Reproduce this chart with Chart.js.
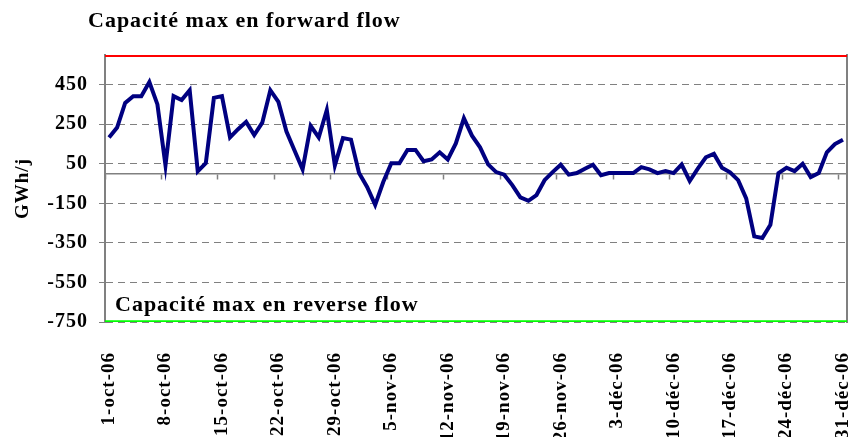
<!DOCTYPE html>
<html>
<head>
<meta charset="utf-8">
<style>
  html, body { margin: 0; padding: 0; background: #fff; }
  #wrap { width: 851px; height: 437px; }
</style>
</head>
<body>
<div id="wrap"><canvas id="flux"></canvas></div>
<script src="https://cdn.jsdelivr.net/npm/chart.js@4"></script>
<script>
// jours du 1-oct-06 au 31-déc-06
const months = [['oct', 31], ['nov', 30], ['déc', 31]];
const categories = [];
months.forEach(([m, n]) => {
  for (let d = 1; d <= n; d++) categories.push(d + '-' + m + '-06');
});

const tickLabels = ['1-oct-06', '8-oct-06', '15-oct-06', '22-oct-06', '29-oct-06', '5-nov-06', '12-nov-06',
  '19-nov-06', '26-nov-06', '3-déc-06', '10-déc-06', '17-déc-06', '24-déc-06', '31-déc-06'];

// flux journalier (GWh/j)
const flux = [183, 233, 358, 392, 392, 463, 350, 42, 392, 372, 422, 12, 53, 383, 392, 183, 225, 262,
  195, 258, 422, 363, 213, 117, 22, 242, 183, 322, 42, 180, 172, 3, -67, -158, -42, 53,
  53, 120, 120, 63, 72, 108, 72, 153, 280, 192, 133, 47, 8, -5, -58, -120, -137, -108,
  -33, 8, 45, -5, 3, 25, 45, -8, 3, 3, 3, 3, 33, 22, 3, 13, 3, 46,
  -37, 25, 83, 100, 30, 7, -33, -125, -317, -325, -258, 3, 30, 13, 50, -17, 3, 108, 150, 172];

const yTicks = [-750, -550, -350, -150, 50, 250, 450];
const forwardCap = 600;
const reverseCap = -750;

const gris = '#808080';
const serif = '"Liberation Serif", "Times New Roman", serif';

const textes = {
  id: 'textes',
  beforeDraw(chart) {
    chart.ctx.letterSpacing = '1px';
  },
  afterDraw(chart) {
    const { ctx, chartArea } = chart;
    ctx.save();
    ctx.font = 'bold 22px ' + serif;
    ctx.fillStyle = '#000';
    ctx.textAlign = 'left';
    ctx.textBaseline = 'alphabetic';
    ctx.fillText('Capacité max en forward flow', chartArea.left - 17, chartArea.top - 28);
    ctx.fillText('Capacité max en reverse flow', chartArea.left + 10, chartArea.bottom - 11);
    ctx.restore();
  }
};

new Chart(document.getElementById('flux'), {
  type: 'line',
  data: {
    labels: categories,
    datasets: [
      {
        label: 'flux',
        data: flux,
        xAxisID: 'x',
        borderColor: '#000080',
        borderWidth: 4,
        pointRadius: 0,
        tension: 0
      },
      {
        label: 'forward',
        data: categories.map(() => forwardCap),
        xAxisID: 'xPlein',
        borderColor: '#ff0000',
        borderWidth: 4,
        pointRadius: 0
      },
      {
        label: 'reverse',
        data: categories.map(() => reverseCap),
        xAxisID: 'xPlein',
        borderColor: '#00ff00',
        borderWidth: 3.5,
        pointRadius: 0
      }
    ]
  },
  options: {
    responsive: true,
    maintainAspectRatio: false,
    animation: false,
    layout: { padding: { top: 55, left: 0, right: 0, bottom: 0 } },
    plugins: {
      legend: { display: false },
      tooltip: { enabled: false }
    },
    scales: {
      x: {
        type: 'category',
        position: 'bottom',
        offset: true,
        grid: { display: false },
        border: { display: false },
        ticks: {
          autoSkip: false,
          minRotation: 90,
          maxRotation: 90,
          padding: 22,
          color: '#000',
          font: { family: serif, size: 19, weight: 'bold' },
          callback: (v, i) => tickLabels.includes(categories[i]) ? categories[i] : ''
        },
        afterFit: s => {
          s.height = 115;
          s.paddingLeft = 0;
          s.paddingRight = 0;
        }
      },
      xZero: {
        type: 'category',
        labels: categories,
        position: { y: 0 },
        offset: true,
        grid: {
          offset: true,
          drawOnChartArea: false,
          tickLength: 5,
          tickWidth: 1.5,
          tickColor: c => (c.index !== undefined && c.index % 7 === 0) ? gris : 'rgba(0,0,0,0)'
        },
        border: { color: gris, width: 1.5 },
        ticks: { display: false, autoSkip: false }
      },
      xPlein: {
        type: 'category',
        labels: categories,
        offset: false,
        display: false
      },
      y: {
        min: reverseCap,
        max: forwardCap,
        afterBuildTicks: s => { s.ticks = yTicks.map(v => ({ value: v })); },
        grid: {
          color: gris,
          lineWidth: 1,
          tickLength: 6,
          tickColor: gris,
          tickBorderDash: []
        },
        border: { color: gris, width: 2, dash: [7, 5] },
        ticks: {
          padding: 11,
          color: '#000',
          font: { family: serif, size: 20, weight: 'bold' }
        },
        title: {
          display: true,
          text: 'GWh/j',
          color: '#000',
          padding: { top: 12, bottom: 0 },
          font: { family: serif, size: 19, weight: 'bold' }
        },
        afterFit: s => { s.width = 105; }
      },
      y2: {
        position: 'right',
        grid: { drawOnChartArea: false, drawTicks: false },
        border: { color: gris, width: 2 },
        ticks: { display: false },
        afterFit: s => { s.width = 4; }
      }
    }
  },
  plugins: [textes]
});
</script>
</body>
</html>
